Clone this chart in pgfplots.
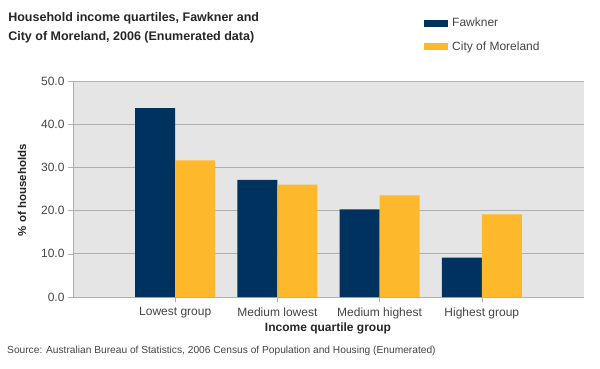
\documentclass[border=0pt]{standalone}
\usepackage{fontspec}
\setmainfont{Liberation Sans}
\usepackage{pgfplots}
\pgfplotsset{compat=1.18}
\definecolor{navy}{RGB}{0,50,96}
\definecolor{gold}{RGB}{253,185,43}
\definecolor{plotbg}{RGB}{229,229,229}
\definecolor{gridc}{RGB}{176,176,176}
\definecolor{txt}{RGB}{68,68,68}
\begin{document}
\begin{tikzpicture}[x=1pt,y=1pt]
\path[use as bounding box] (0,0) rectangle (600,368);
\begin{axis}[
  at={(73pt,71pt)}, anchor=south west,
  width=511pt, height=216pt, scale only axis,
  ybar=0pt, bar width=40pt,
  xmin=-1, xmax=4, ymin=0, ymax=50,
  xtick=data,
  xticklabels={Lowest group,Medium lowest,Medium highest,Highest group},
  ytick={0,10,20,30,40,50},
  /pgf/number format/assume math mode=true,
  yticklabel style={/pgf/number format/fixed,/pgf/number format/fixed zerofill,/pgf/number format/precision=1,font=\fontsize{12}{14}\selectfont,text=txt},
  xticklabel style={font=\fontsize{12}{14}\selectfont,text=txt,yshift=-2pt},
  tick align=outside, major tick length=5pt,
  tick style={gridc, thin},
  ymajorgrids, grid style={gridc, line width=0.8pt},
  axis background/.style={fill=plotbg},
  axis x line*=bottom, axis y line*=left,
  axis line style={gridc, line width=0.8pt},
  xtick pos=bottom, ytick pos=left,
  xlabel={Income quartile group},
  ylabel={\% of households},
  xlabel style={font=\bfseries\fontsize{12}{14}\selectfont, text=black!85, at={(axis description cs:0.499,-0.1435)}, anchor=center},
  ylabel style={font=\bfseries\fontsize{11.5}{14}\selectfont, text=black!85, at={(axis description cs:-0.0998,0.495)}, anchor=center, rotate=0},
  title={Household income quartiles, Fawkner and\\City of Moreland, 2006 (Enumerated data)},
  title style={font=\bfseries\fontsize{12.5}{18.5}\selectfont, text=black!85, align=left, at={(axis description cs:-0.127,1.29)}, anchor=north west, inner sep=0pt},
  legend style={at={(axis description cs:0.6869,1.302)}, anchor=north west, draw=none, fill=none, inner sep=0pt, font=\fontsize{12}{14}\selectfont, text=txt, row sep=9.5pt, /tikz/every even column/.append style={column sep=0pt}},
  legend cell align=left,
  legend image code/.code={\fill[#1] (0pt,-3.5pt) rectangle (24pt,3.5pt);},
  /tikz/every odd column/.append style={column sep=2pt},
]
\draw[gridc, line width=0.8pt] (rel axis cs:1,0) -- (rel axis cs:1,1);
\addplot[fill=navy, draw=none] coordinates {(0,43.7) (1,27.1) (2,20.3) (3,9.1)};
\addlegendentry{Fawkner}
\addplot[fill=gold, draw=none] coordinates {(0,31.6) (1,26.0) (2,23.5) (3,19.1)};
\addlegendentry{City of Moreland}
\end{axis}
\node[anchor=west, font=\fontsize{10.2}{12}\selectfont, text=txt, inner sep=0pt] at (7,17) {Source: Australian Bureau of Statistics, 2006 Census of Population and Housing (Enumerated)};
\end{tikzpicture}
\end{document}
